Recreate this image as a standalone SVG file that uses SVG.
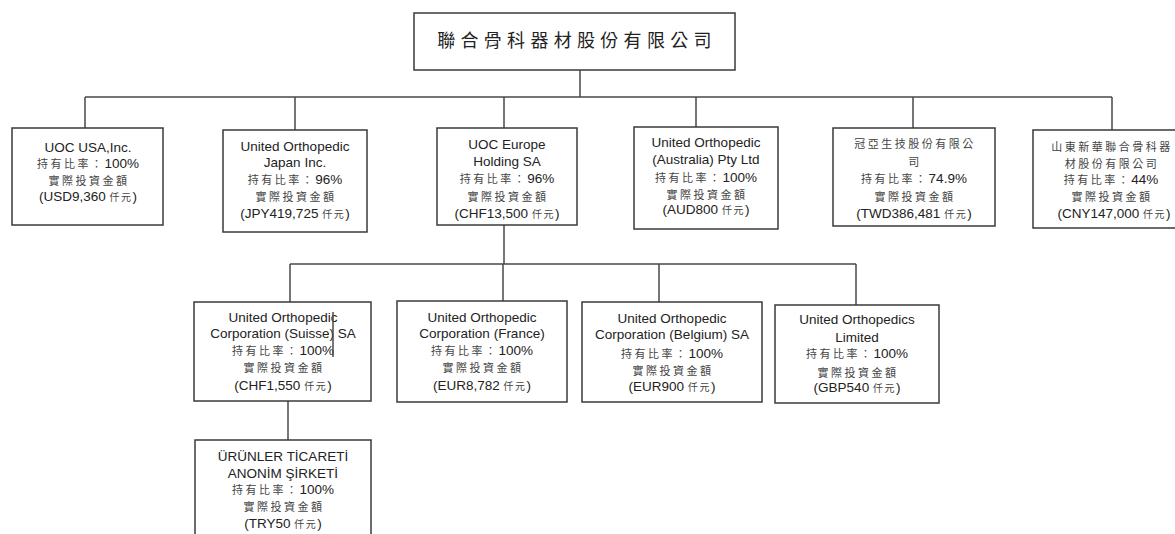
<svg xmlns="http://www.w3.org/2000/svg" width="1175" height="534" viewBox="0 0 1175 534">
<style>
.box{fill:#fff;stroke:#3a3a3a;stroke-width:1.5}
.ln{fill:none;stroke:#4a4a4a;stroke-width:1.5}
text{text-anchor:middle}
.en{font-family:"Liberation Sans",Arial,sans-serif;font-size:13.5px;fill:#222}
.cj{font-family:"Noto Sans CJK TC","Noto Sans CJK SC",sans-serif;font-size:11px;letter-spacing:2.5px;fill:#444}
.cs{font-family:"Noto Sans CJK TC","Noto Sans CJK SC",sans-serif;font-size:10px;letter-spacing:1.5px;fill:#444}
.title{font-family:"Noto Sans CJK TC","Noto Sans CJK SC",sans-serif;font-size:18px;letter-spacing:5.3px;fill:#222}
</style>
<rect width="1175" height="534" fill="#fff"/>
<g id="connectors">
<path class="ln" d="M580 70V97M85 97H1112M85 97V128M295 97V130M504 97V128M696 97V127M913 97V128M1112 97V130"/>
<path class="ln" d="M504 225V264M290 264H856M290 264V302M503 264V301M659 264V302M856 264V305"/>
<path class="ln" d="M288 401V440"/>
</g>
<g id="root">
<rect class="box" x="414" y="13" width="321" height="57"/>
<text class="title" x="577" y="47">聯合骨科器材股份有限公司</text>
</g>
<g id="usa">
<rect class="box" x="12" y="128" width="151" height="97"/>
<text class="en" x="88" y="151.5">UOC USA,Inc.</text>
<text x="88" y="168"><tspan class="cj">持有比率：</tspan><tspan class="en">100%</tspan></text>
<text class="cj" x="89" y="184.5">實際投資金額</text>
<text x="88" y="201"><tspan class="en">(USD9,360 </tspan><tspan class="cs">仟元</tspan><tspan class="en">)</tspan></text>
</g>
<g id="japan">
<rect class="box" x="223" y="130" width="144" height="102"/>
<text class="en" x="295" y="151">United Orthopedic</text>
<text class="en" x="295" y="166.7">Japan Inc.</text>
<text x="295" y="184.3"><tspan class="cj">持有比率：</tspan><tspan class="en">96%</tspan></text>
<text class="cj" x="296" y="201">實際投資金額</text>
<text x="295" y="218.3"><tspan class="en">(JPY419,725 </tspan><tspan class="cs">仟元</tspan><tspan class="en">)</tspan></text>
</g>
<g id="europe">
<rect class="box" x="437" y="128" width="140" height="97"/>
<text class="en" x="507" y="149">UOC Europe</text>
<text class="en" x="507" y="165.7">Holding SA</text>
<text x="507" y="183.3"><tspan class="cj">持有比率：</tspan><tspan class="en">96%</tspan></text>
<text class="cj" x="508" y="201">實際投資金額</text>
<text x="507" y="217.7"><tspan class="en">(CHF13,500 </tspan><tspan class="cs">仟元</tspan><tspan class="en">)</tspan></text>
</g>
<g id="australia">
<rect class="box" x="634" y="127" width="144" height="102"/>
<text class="en" x="706" y="146.7">United Orthopedic</text>
<text class="en" x="706" y="164">(Australia) Pty Ltd</text>
<text x="706" y="181.7"><tspan class="cj">持有比率：</tspan><tspan class="en">100%</tspan></text>
<text class="cj" x="707" y="199">實際投資金額</text>
<text x="706" y="214.3"><tspan class="en">(AUD800 </tspan><tspan class="cs">仟元</tspan><tspan class="en">)</tspan></text>
</g>
<g id="guanya">
<rect class="box" x="833" y="128" width="162" height="98"/>
<text class="cj" x="915" y="148.3">冠亞生技股份有限公</text>
<text class="cj" x="915" y="166">司</text>
<text x="914" y="183.3"><tspan class="cj">持有比率：</tspan><tspan class="en">74.9%</tspan></text>
<text class="cj" x="915" y="201">實際投資金額</text>
<text x="914" y="217.7"><tspan class="en">(TWD386,481 </tspan><tspan class="cs">仟元</tspan><tspan class="en">)</tspan></text>
</g>
<g id="shandong">
<rect class="box" x="1033" y="130" width="162" height="98"/>
<text class="cj" x="1112" y="151">山東新華聯合骨科器</text>
<text class="cj" x="1112" y="167.7">材股份有限公司</text>
<text x="1111" y="184.3"><tspan class="cj">持有比率：</tspan><tspan class="en">44%</tspan></text>
<text class="cj" x="1112" y="201">實際投資金額</text>
<text x="1114" y="218.3"><tspan class="en">(CNY147,000 </tspan><tspan class="cs">仟元</tspan><tspan class="en">)</tspan></text>
</g>
<g id="suisse">
<rect class="box" x="194" y="302" width="177" height="99"/>
<text class="en" x="283" y="321.7">United Orthopedic</text>
<text class="en" x="283" y="338.3">Corporation (Suisse) SA</text>
<text x="283" y="355"><tspan class="cj">持有比率：</tspan><tspan class="en">100%</tspan></text>
<text class="cj" x="284" y="372.3">實際投資金額</text>
<text x="283" y="390"><tspan class="en">(CHF1,550 </tspan><tspan class="cs">仟元</tspan><tspan class="en">)</tspan></text>
<path class="ln" d="M333 312V357" stroke-width="1.2"/>
</g>
<g id="france">
<rect class="box" x="397" y="301" width="170" height="101"/>
<text class="en" x="482" y="321.7">United Orthopedic</text>
<text class="en" x="482" y="338.3">Corporation (France)</text>
<text x="482" y="355"><tspan class="cj">持有比率：</tspan><tspan class="en">100%</tspan></text>
<text class="cj" x="483" y="372.3">實際投資金額</text>
<text x="482" y="390"><tspan class="en">(EUR8,782 </tspan><tspan class="cs">仟元</tspan><tspan class="en">)</tspan></text>
</g>
<g id="belgium">
<rect class="box" x="582" y="302" width="180" height="100"/>
<text class="en" x="672" y="323.3">United Orthopedic</text>
<text class="en" x="672" y="339.3">Corporation (Belgium) SA</text>
<text x="672" y="357.7"><tspan class="cj">持有比率：</tspan><tspan class="en">100%</tspan></text>
<text class="cj" x="673" y="375">實際投資金額</text>
<text x="672" y="391"><tspan class="en">(EUR900 </tspan><tspan class="cs">仟元</tspan><tspan class="en">)</tspan></text>
</g>
<g id="uk">
<rect class="box" x="775" y="305" width="164" height="98"/>
<text class="en" x="857" y="324.3">United Orthopedics</text>
<text class="en" x="857" y="341.7">Limited</text>
<text x="857" y="358.3"><tspan class="cj">持有比率：</tspan><tspan class="en">100%</tspan></text>
<text class="cj" x="858" y="376.7">實際投資金額</text>
<text x="857" y="392.3"><tspan class="en">(GBP540 </tspan><tspan class="cs">仟元</tspan><tspan class="en">)</tspan></text>
</g>
<g id="turkey">
<rect class="box" x="195" y="440" width="176" height="110"/>
<text class="en" x="283" y="461">ÜRÜNLER TİCARETİ</text>
<text class="en" x="283" y="477.7">ANONİM ŞİRKETİ</text>
<text x="283" y="494.3"><tspan class="cj">持有比率：</tspan><tspan class="en">100%</tspan></text>
<text class="cj" x="284" y="511">實際投資金額</text>
<text x="283" y="528.3"><tspan class="en">(TRY50 </tspan><tspan class="cs">仟元</tspan><tspan class="en">)</tspan></text>
</g>
</svg>
